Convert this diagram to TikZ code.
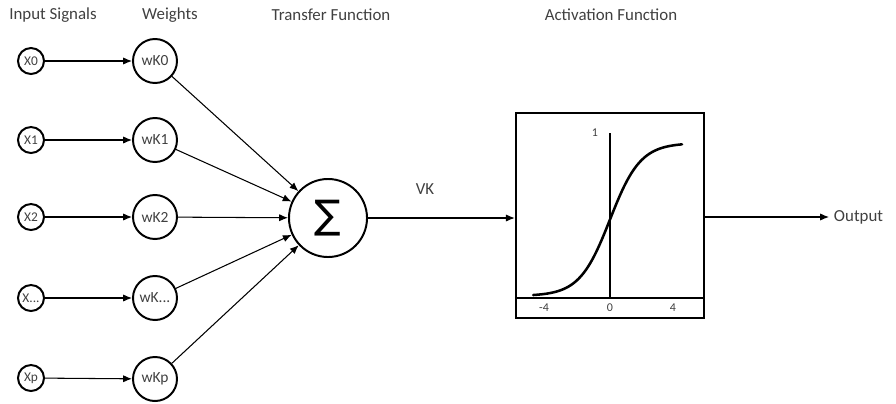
\documentclass[tikz,border=0pt]{standalone}
\usepackage{fontspec}
\setmainfont{Carlito}
\newfontfamily\symfont{DejaVu Sans}
\usetikzlibrary{arrows.meta, positioning, calc}

\begin{document}
\begin{tikzpicture}[x=0.025cm, y=-0.025cm,
  inp/.style={draw, circle, line width=1.4pt, minimum size=0.65cm, inner sep=0pt, text=black!75, font=\fontsize{9.5}{10}\selectfont},
  wgt/.style={draw, circle, line width=1.4pt, minimum size=1.1cm, inner sep=0pt, text=black!75, font=\fontsize{11}{12}\selectfont},
  lab/.style={text=black!75, font=\fontsize{12}{14}\selectfont},
  tick/.style={text=black!75, font=\fontsize{8.5}{9}\selectfont},
  arr/.style={-{Latex[length=2.2mm, width=1.8mm]}, line width=0.75pt}]

\useasboundingbox (0,0) rectangle (896,403);

% Column titles

\node[lab] (tin) at (53,15)  {Input Signals};
\node[lab] (twt) at (170,15) {Weights};
\node[lab] (ttf) at (331,15) {Transfer Function};
\node[lab] (taf) at (611,15) {Activation Function};

% Inputs and weights

\node[inp] (x0) at (31,61)  {X0};
\node[inp] (x1) at (31,140) {X1};
\node[inp] (x2) at (31,217) {X2};
\node[inp] (xd) at (31,298) {X...};
\node[inp] (xp) at (31,378) {Xp};

\node[wgt] (wk0) at (155,61)  {wK0};
\node[wgt] (wk1) at (155,140) {wK1};
\node[wgt] (wk2) at (155,217) {wK2};
\node[wgt] (wkd) at (155,298) {wK...};
\node[wgt] (wkp) at (155,379) {wKp};

\node[draw, circle, line width=1.4pt, minimum size=1.95cm, inner sep=0pt, font=\symfont\fontsize{28}{28}\selectfont]
(sum) at (328,218) {∑};

\draw[arr] (x0) -- (wk0);
\draw[arr] (x1) -- (wk1);
\draw[arr] (x2) -- (wk2);
\draw[arr] (xd) -- (wkd);
\draw[arr] (xp) -- (wkp);

\draw[arr] (wk0) -- (sum);
\draw[arr] (wk1) -- (sum);
\draw[arr] (wk2) -- (sum);
\draw[arr] (wkd) -- (sum);
\draw[arr] (wkp) -- (sum);

% Activation box

\node[draw, line width=1.7pt, minimum width=4.7cm, minimum height=5.125cm] (act) at (610,215.5) {};

\coordinate (ax)  at (610,298);
\coordinate (top) at (610,133);
\draw[line width=0.75pt] (act.west |- ax) -- (act.east |- ax);
\draw[line width=0.75pt] (ax) -- (top);
\node[tick, anchor=east] (one) at (603,133) {1};
\node[tick] (tm4) at (544,308) {-4};
\node[tick] (t0)  at (610,308) {0};
\node[tick] (tp4) at (673,308) {4};

\draw[line width=1.8pt, line cap=round] plot[domain=-4.8:4.5, samples=60, smooth] ({610+16*\x}, {296-153/(1+exp(-1.05*\x))});

\node[lab] (vk) at (425,189) {VK};
\draw[arr] (sum.east) -- (sum.east -| act.west);

\node[lab, anchor=west] (out) at (829,217) {Output};
\draw[arr] (act.east |- out.west) -- (out.west);

\end{tikzpicture}
\end{document}
